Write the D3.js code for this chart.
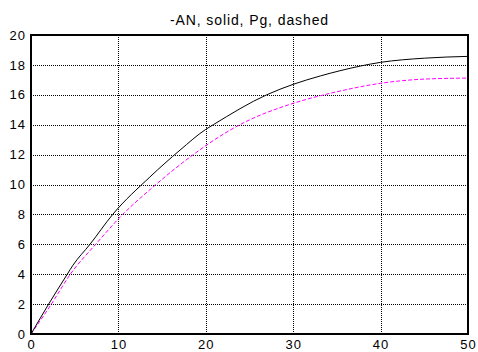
<!DOCTYPE html>
<html>
<head>
<meta charset="utf-8">
<script src="https://cdn.jsdelivr.net/npm/d3@7"></script>
<style>
  body { margin: 0; background: #fff; }
  text { font-family: "Liberation Sans", Arial, sans-serif; }
</style>
</head>
<body>
<script>
// -AN (solid)
const anX = [0, 2.02, 4.15, 4.8, 6.75, 9.35, 13.6, 17.05, 20, 20.86, 26.97, 30, 33.1, 35.35, 40, 45, 50];
const anY = [0, 2, 4, 4.6, 6, 8, 10.5, 12.3, 13.69, 14, 16, 16.7, 17.26, 17.61, 18.17, 18.45, 18.57];
// Pg (dashed)
const pgX = [0, 2.33, 4.5, 7.4, 10.5, 13.6, 18.57, 20, 23.9, 30, 33.1, 35.35, 40, 45, 50];
const pgY = [0, 2, 4, 6, 8, 9.65, 12, 12.6, 14, 15.43, 15.94, 16.25, 16.77, 17.05, 17.12];
const xTicks = [0, 10, 20, 30, 40, 50];
const yTicks = [0, 2, 4, 6, 8, 10, 12, 14, 16, 18, 20];

const width = 478, height = 352;
const margin = {top: 35, right: 10, bottom: 18, left: 31};

const svg = d3.select("body").append("svg")
    .attr("width", width)
    .attr("height", height);

const x = d3.scaleLinear([0, 50], [margin.left, width - margin.right]);
const y = d3.scaleLinear([0, 20], [height - margin.bottom, margin.top]);

// grid
svg.append("g")
    .attr("stroke", "#000")
    .attr("stroke-width", 1)
    .attr("stroke-dasharray", "1,1")
    .call(g => g.selectAll("line.v")
      .data(xTicks.slice(1, -1))
      .join("line")
        .attr("x1", d => Math.round(x(d)) + 0.5)
        .attr("x2", d => Math.round(x(d)) + 0.5)
        .attr("y1", y(0))
        .attr("y2", y(20)))
    .call(g => g.selectAll("line.h")
      .data(yTicks.slice(1, -1))
      .join("line")
        .attr("y1", d => Math.round(y(d)) + 0.5)
        .attr("y2", d => Math.round(y(d)) + 0.5)
        .attr("x1", x(0))
        .attr("x2", x(50)));

const line = d3.line()
    .x(d => x(d[0]))
    .y(d => y(d[1]))
    .curve(d3.curveMonotoneX);

svg.append("path")
    .attr("fill", "none")
    .attr("stroke", "#ff00ff")
    .attr("stroke-width", 1)
    .attr("stroke-dasharray", "4,2")
    .attr("d", line(d3.zip(pgX, pgY)));

svg.append("path")
    .attr("fill", "none")
    .attr("stroke", "#000")
    .attr("stroke-width", 1)
    .attr("d", line(d3.zip(anX, anY)));

// frame
svg.append("rect")
    .attr("x", x(0))
    .attr("y", y(20))
    .attr("width", x(50) - x(0))
    .attr("height", y(0) - y(20))
    .attr("fill", "none")
    .attr("stroke", "#000")
    .attr("stroke-width", 2);

// tick labels
svg.append("g")
    .attr("font-size", 13)
    .attr("letter-spacing", 1)
    .attr("text-anchor", "end")
    .selectAll("text")
    .data(yTicks)
    .join("text")
      .attr("x", margin.left - 5)
      .attr("y", d => y(d))
      .attr("dy", "0.36em")
      .text(d => d);

svg.append("g")
    .attr("font-size", 13)
    .attr("letter-spacing", 1)
    .attr("text-anchor", "middle")
    .selectAll("text")
    .data(xTicks)
    .join("text")
      .attr("x", d => x(d) + 0.5)
      .attr("y", y(0) + 15)
      .text(d => d);

svg.append("text")
    .attr("x", (x(0) + x(50)) / 2)
    .attr("y", 25)
    .attr("text-anchor", "middle")
    .attr("font-size", 14)
    .attr("letter-spacing", 0.9)
    .text("-AN, solid, Pg, dashed");
</script>
</body>
</html>
